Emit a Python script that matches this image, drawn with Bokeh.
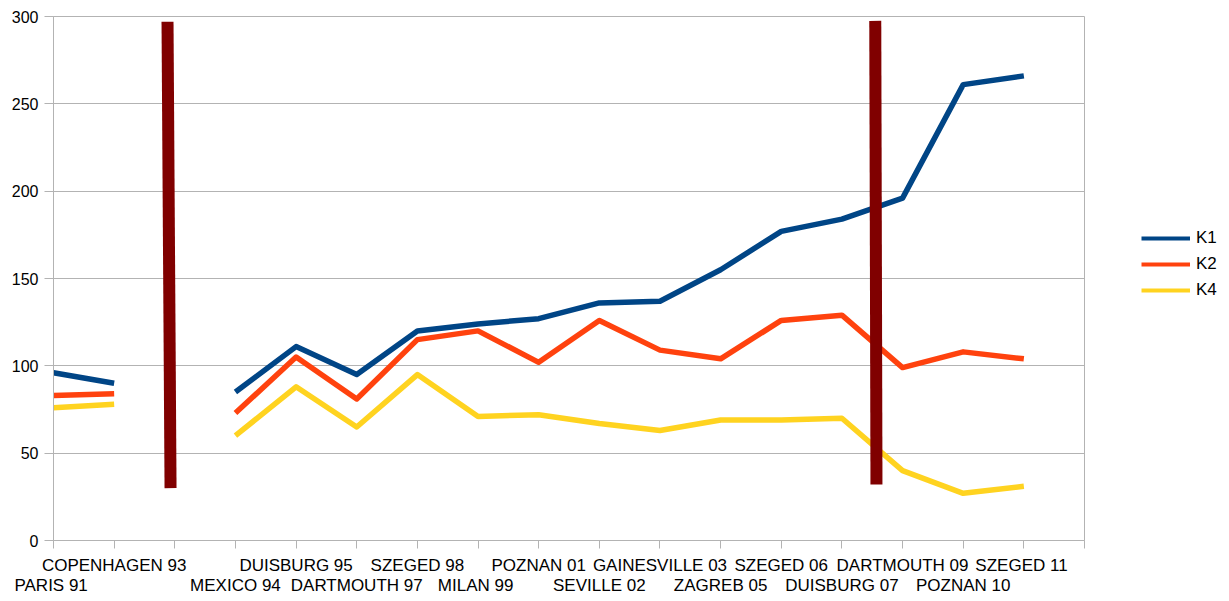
from bokeh.plotting import figure
from bokeh.models import FixedTicker, Legend, LegendItem, Range1d
from bokeh.layouts import row
from bokeh.embed import file_html
from bokeh.resources import INLINE
import numpy as np

categories = ["PARIS  91", "COPENHAGEN 93", "", "MEXICO 94", "DUISBURG 95", "DARTMOUTH 97",
              "SZEGED 98", "MILAN  99", "POZNAN 01", "SEVILLE 02", "GAINESVILLE 03",
              "ZAGREB 05", "SZEGED 06", "DUISBURG 07", "DARTMOUTH 09", "POZNAN 10", "SZEGED  11"]
label_row = [2, 1, 1, 2, 1, 2, 1, 2, 1, 2, 1, 2, 1, 2, 1, 2, 1]

k1 = [96, 90, np.nan, 85, 111, 95, 120, 124, 127, 136, 137, 155, 177, 184, 196, 261, 266]
k2 = [83, 84, np.nan, 73, 105, 81, 115, 120, 102, 126, 109, 104, 126, 129, 99, 108, 104]
k4 = [76, 78, np.nan, 60, 88, 65, 95, 71, 72, 67, 63, 69, 69, 70, 40, 27, 31]

# dark red vertical marker bars (category position, value)
bar_x_top = [1.88, 13.55]
bar_x_bottom = [1.93, 13.57]
bar_y_top = [297, 297.5]
bar_y_bottom = [30, 32]

series_names = ["K1", "K2", "K4"]
series_colors = ["#004586", "#ff420e", "#ffd320"]

FONT = "Liberation Sans"

p = figure(width=1086, height=598, output_backend="svg", toolbar_location=None,
           x_range=Range1d(0, 17), y_range=Range1d(0, 300),
           min_border_left=53, min_border_right=2, min_border_top=16, min_border_bottom=57)

xs = list(range(len(categories)))
for vals, c in zip([k1, k2, k4], series_colors):
    p.line(xs, vals, line_color=c, line_width=5.5, line_join="round")

p.segment(x0=bar_x_bottom, y0=bar_y_bottom, x1=bar_x_top, y1=bar_y_top,
          line_color="#800000", line_width=12, line_cap="butt")

# axes
p.xaxis.ticker = FixedTicker(ticks=list(range(18)))
overrides = {}
for i, (c, r) in enumerate(zip(categories, label_row)):
    overrides[i] = c if r == 1 else "\n" + c
overrides[17] = ""
p.xaxis.major_label_overrides = overrides
p.xaxis.major_label_text_font = FONT
p.xaxis.major_label_text_font_size = "17px"
p.xaxis.major_label_text_line_height = 1.1
p.xaxis.major_label_text_color = "#000000"
p.xaxis.major_label_standoff = 7
p.xaxis.major_tick_out = 8
p.xaxis.major_tick_in = 0
p.xaxis.minor_tick_line_color = None
p.xaxis.axis_line_color = "#b3b3b3"
p.xaxis.major_tick_line_color = "#b3b3b3"

p.yaxis.ticker = FixedTicker(ticks=[0, 50, 100, 150, 200, 250, 300])
p.yaxis.major_label_text_font = FONT
p.yaxis.major_label_text_font_size = "16px"
p.yaxis.major_label_text_color = "#000000"
p.yaxis.major_label_standoff = 6
p.yaxis.major_tick_out = 9
p.yaxis.major_tick_in = 0
p.yaxis.minor_tick_line_color = None
p.yaxis.axis_line_color = "#b3b3b3"
p.yaxis.major_tick_line_color = "#b3b3b3"

p.xgrid.grid_line_color = None
p.ygrid.grid_line_color = "#b3b3b3"
p.outline_line_color = "#b3b3b3"
p.outline_line_width = 1
p.background_fill_color = "white"
p.border_fill_color = "white"

# legend panel
lg = figure(width=135, height=598, output_backend="svg", toolbar_location=None,
            x_range=Range1d(0, 1), y_range=Range1d(0, 1),
            min_border_left=0, min_border_right=0, min_border_top=0, min_border_bottom=0)
lg.xaxis.visible = False
lg.yaxis.visible = False
lg.grid.visible = False
lg.outline_line_color = None
lg.background_fill_color = "white"
lg.border_fill_color = "white"
leg_renderers = [lg.line(x=[np.nan, np.nan], y=[np.nan, np.nan], line_color=c, line_width=4)
                 for c in series_colors]

legend = Legend(items=[LegendItem(label=n, renderers=[r]) for n, r in zip(series_names, leg_renderers)],
                location=(55, 240), orientation="vertical",
                glyph_width=49, glyph_height=20, label_standoff=6, spacing=6,
                label_text_font=FONT, label_text_font_size="17px", label_text_color="#000000",
                border_line_color=None, background_fill_alpha=0, padding=0, margin=0)
lg.add_layout(legend, "center")

layout = row(p, lg, spacing=0)
open("out.html", "w").write(file_html(layout, INLINE))
